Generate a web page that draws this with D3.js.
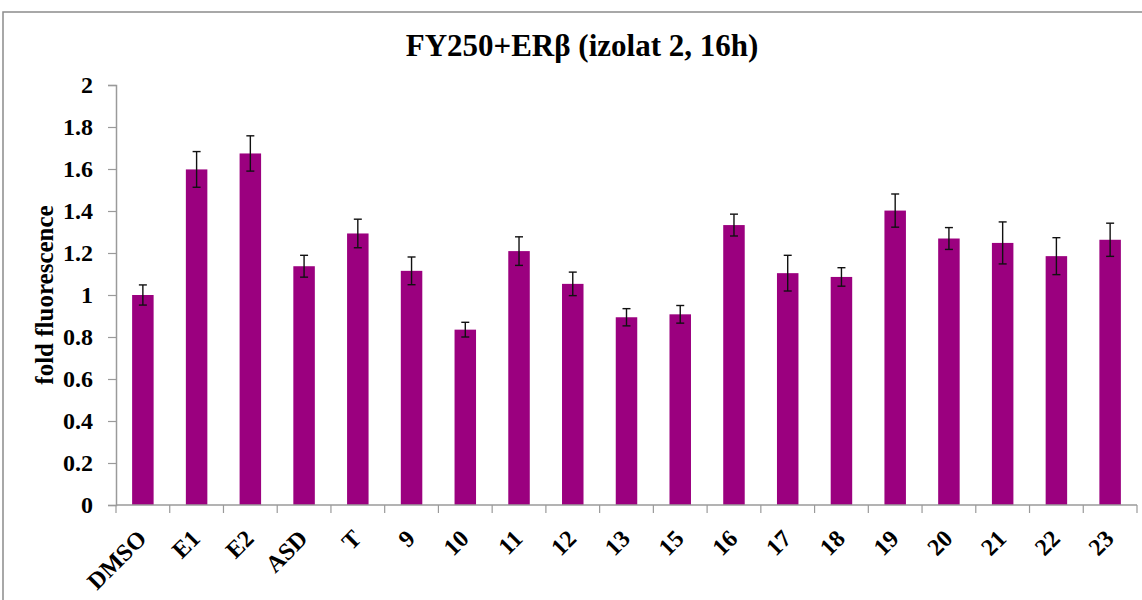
<!DOCTYPE html>
<html>
<head>
<meta charset="utf-8">
<script src="https://cdn.jsdelivr.net/npm/d3@7"></script>
<style>
  html, body { margin: 0; padding: 0; background: #fff; }
  svg { display: block; }
</style>
</head>
<body>
<svg id="chart" width="1142" height="600"></svg>
<script>
// Samples and their mean fold fluorescence with error (±)
const categories = ["DMSO", "E1", "E2", "ASD", "T", "9", "10", "11", "12", "13", "15", "16", "17", "18", "19", "20", "21", "22", "23"];
const values = [1.00, 1.598, 1.674, 1.137, 1.293, 1.115, 0.835, 1.209, 1.053, 0.894, 0.908, 1.333, 1.104, 1.086, 1.402, 1.269, 1.248, 1.185, 1.263];
const errors = [0.048, 0.085, 0.084, 0.052, 0.068, 0.066, 0.035, 0.068, 0.056, 0.041, 0.042, 0.052, 0.085, 0.044, 0.079, 0.052, 0.100, 0.088, 0.079];
const yTicks = [0, 0.2, 0.4, 0.6, 0.8, 1, 1.2, 1.4, 1.6, 1.8, 2];
const yTickLabels = ["0", "0.2", "0.4", "0.6", "0.8", "1", "1.2", "1.4", "1.6", "1.8", "2"];

const titleText = "FY250+ERβ (izolat 2, 16h)";
const yTitle = "fold fluorescence";

const svg = d3.select("#chart");
const W = 1142, H = 600;
const plot = { left: 116, right: 1137, top: 85, bottom: 505 };
const font = "'Liberation Serif', 'Times New Roman', serif";
const axisColor = "#9a9a9a";
const barColor = "#9b007f";

// outer frame of the chart object
svg.append("rect")
  .attr("x", 3).attr("y", 12)
  .attr("width", W + 10).attr("height", H + 10)
  .attr("fill", "none")
  .attr("stroke", "#8c8c8c")
  .attr("stroke-width", 1.5);

const x = d3.scaleBand()
  .domain(categories)
  .range([plot.left, plot.right])
  .paddingInner(0.6)
  .paddingOuter(0.3);

const y = d3.scaleLinear()
  .domain([0, 2])
  .range([plot.bottom, plot.top]);

// title
svg.append("text")
  .attr("x", 582).attr("y", 56)
  .attr("text-anchor", "middle")
  .attr("font-family", font)
  .attr("font-weight", "bold")
  .attr("font-size", 31)
  .text(titleText);

// bars
const data = categories.map((c, i) => ({ c, v: values[i], e: errors[i] }));
svg.append("g").selectAll("rect")
  .data(data)
  .join("rect")
  .attr("x", d => x(d.c))
  .attr("y", d => y(d.v))
  .attr("width", x.bandwidth())
  .attr("height", d => y(0) - y(d.v))
  .attr("fill", barColor);

// error bars
const eb = svg.append("g").attr("stroke", "#111").attr("stroke-width", 1.4);
data.forEach(d => {
  const cx = x(d.c) + x.bandwidth() / 2;
  const capW = 4;
  eb.append("line").attr("x1", cx).attr("x2", cx).attr("y1", y(d.v + d.e)).attr("y2", y(d.v - d.e));
  eb.append("line").attr("x1", cx - capW).attr("x2", cx + capW).attr("y1", y(d.v + d.e)).attr("y2", y(d.v + d.e));
  eb.append("line").attr("x1", cx - capW).attr("x2", cx + capW).attr("y1", y(d.v - d.e)).attr("y2", y(d.v - d.e));
});

// y axis
const yAxis = d3.axisLeft(y)
  .tickValues(yTicks)
  .tickFormat((d, i) => yTickLabels[i])
  .tickSizeOuter(0)
  .tickSize(8)
  .tickPadding(15);
const gy = svg.append("g")
  .attr("transform", `translate(${plot.left},0)`)
  .call(yAxis);
gy.select(".domain").attr("stroke", axisColor).attr("stroke-width", 1.5);
gy.selectAll(".tick line").attr("stroke", axisColor).attr("stroke-width", 1.2);
gy.selectAll(".tick text")
  .attr("font-family", font)
  .attr("font-weight", "bold")
  .attr("font-size", 24)
  .attr("fill", "#000");

// x axis: ticks between categories
const xBoundaries = d3.range(categories.length + 1).map(i => plot.left + i * x.step());
const gx = svg.append("g");
gx.append("line")
  .attr("x1", plot.left).attr("x2", plot.right)
  .attr("y1", plot.bottom).attr("y2", plot.bottom)
  .attr("stroke", axisColor).attr("stroke-width", 1.5);
gx.selectAll("line.tk")
  .data(xBoundaries)
  .join("line")
  .attr("class", "tk")
  .attr("x1", d => d).attr("x2", d => d)
  .attr("y1", plot.bottom).attr("y2", plot.bottom + 8)
  .attr("stroke", axisColor).attr("stroke-width", 1.2);

gx.selectAll("text")
  .data(categories)
  .join("text")
  .attr("transform", d => `translate(${x(d) + x.bandwidth() / 2 + 5},${plot.bottom + 35}) rotate(-45)`)
  .attr("text-anchor", "end")
  .attr("font-family", font)
  .attr("font-weight", "bold")
  .attr("font-size", 24)
  .attr("fill", "#000")
  .text(d => d);

// y axis title
svg.append("text")
  .attr("transform", `translate(53,${(plot.top + plot.bottom) / 2}) rotate(-90)`)
  .attr("text-anchor", "middle")
  .attr("font-family", font)
  .attr("font-weight", "bold")
  .attr("font-size", 25)
  .text(yTitle);
</script>
</body>
</html>
